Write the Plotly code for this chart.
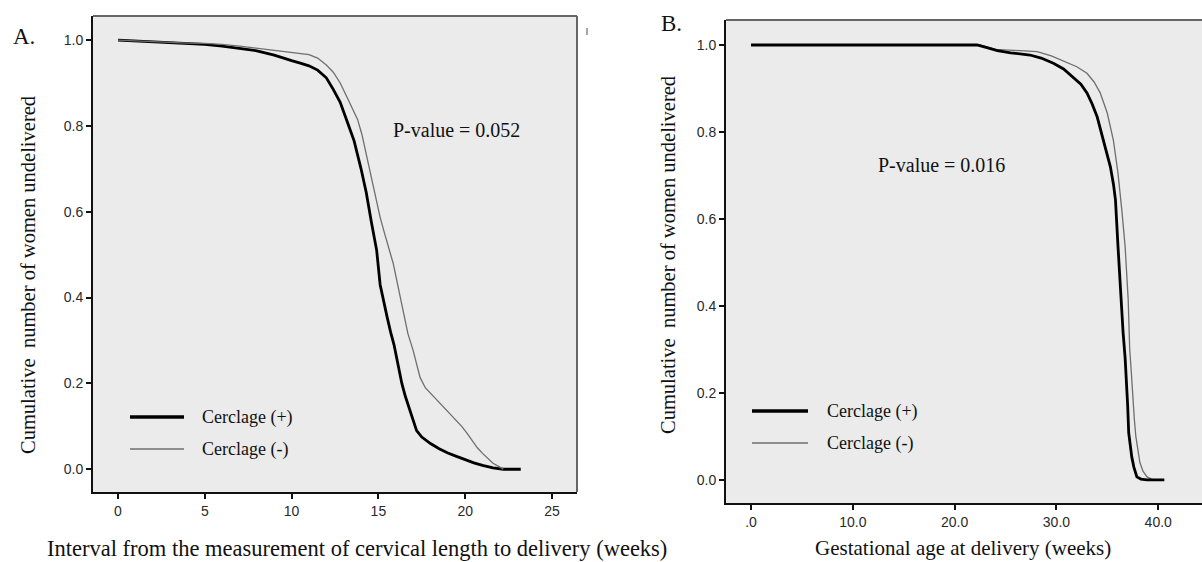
import plotly.graph_objects as go

W, H = 1202, 562

# ---------------- data ----------------
# Panel A: interval from cervical length measurement to delivery (weeks)
a_plus_x = [0, 1, 2, 3, 4, 5, 6, 7, 8, 9, 9.5, 10, 10.5, 11, 11.5, 12, 12.4, 12.8, 13.2, 13.6,
            14.0, 14.3, 14.6, 14.9, 15.1, 15.3, 15.5, 15.7, 15.9, 16.15, 16.35, 16.55, 16.75,
            16.95, 17.2, 17.5, 18.0, 18.5, 19.0, 19.5, 20.0, 20.5, 21.0, 21.6, 22.2, 23.2]
a_plus_y = [1.0, 0.998, 0.995, 0.993, 0.991, 0.99, 0.986, 0.981, 0.975, 0.965, 0.958, 0.952,
            0.946, 0.94, 0.93, 0.912, 0.885, 0.855, 0.81, 0.765, 0.70, 0.645, 0.575, 0.51,
            0.43, 0.39, 0.355, 0.32, 0.29, 0.24, 0.20, 0.17, 0.145, 0.12, 0.09, 0.075, 0.06,
            0.048, 0.038, 0.03, 0.022, 0.015, 0.009, 0.003, 0.0, 0.0]
a_minus_x = [0, 1, 2, 3, 4, 5, 6, 7, 8, 9, 10, 10.5, 11, 11.5, 12, 12.4, 12.8, 13.2, 13.5, 13.8,
             14.05, 14.25, 14.45, 14.65, 14.9, 15.1, 15.35, 15.6, 15.85, 16.1, 16.4, 16.7, 17.0,
             17.4, 17.7, 18.0, 18.4, 18.75, 19.1, 19.5, 19.8, 20.1, 20.4, 20.7, 21.0, 21.3,
             21.6, 22.0, 22.2]
a_minus_y = [1.0, 0.998, 0.996, 0.994, 0.993, 0.992, 0.99, 0.986, 0.981, 0.975, 0.97, 0.968,
             0.966, 0.958, 0.942, 0.925, 0.90, 0.866, 0.84, 0.815, 0.78, 0.742, 0.705, 0.665,
             0.62, 0.587, 0.55, 0.516, 0.48, 0.432, 0.37, 0.316, 0.277, 0.214, 0.19, 0.177,
             0.16, 0.145, 0.13, 0.114, 0.10, 0.084, 0.068, 0.05, 0.037, 0.025, 0.014, 0.005, 0.0]

# Panel B: gestational age at delivery (weeks)
b_plus_x = [0, 22.2, 23.0, 24.2, 25.5, 27.4, 28.5, 29.7, 30.7, 31.6, 32.4, 33.0, 33.5, 34.0,
            34.6, 35.0, 35.3, 35.6, 35.8, 36.05, 36.25, 36.4, 36.55, 36.75, 36.9, 37.0, 37.1,
            37.25, 37.4, 37.6, 37.9, 38.3, 38.9, 40.6]
b_plus_y = [1.0, 1.0, 0.995, 0.987, 0.982, 0.977, 0.97, 0.958, 0.945, 0.927, 0.91, 0.89, 0.865,
            0.835, 0.78, 0.75, 0.72, 0.68, 0.644, 0.536, 0.453, 0.39, 0.338, 0.28, 0.223, 0.17,
            0.108, 0.08, 0.053, 0.03, 0.007, 0.002, 0.0, 0.0]
b_minus_x = [0, 22.5, 24.0, 26.0, 28.1, 29.5, 31.0, 32.0, 33.0, 33.7, 34.3, 35.0, 35.6, 36.05,
             36.45, 36.75, 37.05, 37.2, 37.35, 37.5, 37.65, 37.8, 38.0, 38.2, 38.5, 38.9, 39.5,
             40.0]
b_minus_y = [1.0, 1.0, 0.99, 0.988, 0.985, 0.975, 0.96, 0.95, 0.935, 0.915, 0.89, 0.843, 0.78,
             0.705, 0.614, 0.536, 0.414, 0.30, 0.25, 0.184, 0.14, 0.10, 0.065, 0.04, 0.02,
             0.007, 0.0, 0.0]

a_xticks = [0, 5, 10, 15, 20, 25]
a_xticktext = ["0", "5", "10", "15", "20", "25"]
b_xticks = [0, 10, 20, 30, 40]
b_xticktext = [".0", "10.0", "20.0", "30.0", "40.0"]
y_ticks = [0.0, 0.2, 0.4, 0.6, 0.8, 1.0]
y_ticktext = ["0.0", "0.2", "0.4", "0.6", "0.8", "1.0"]

series_names = ["Cerclage (+)", "Cerclage (-)"]
p_texts = ["P-value = 0.052", "P-value = 0.016"]
panel_labels = ["A.", "B."]
x_titles = ["Interval from the measurement of cervical length to delivery (weeks)",
            "Gestational age at delivery (weeks)"]
y_title = "Cumulative  number of women undelivered"

# ---------------- styling ----------------
SERIF = "Liberation Serif, Times New Roman, serif"
SANS = "Liberation Sans, Arial, sans-serif"
BG = "#ebebeb"
THICK = dict(color="#000000", width=2.8)
THIN = dict(color="#6e6e6e", width=1.3)


def px(x):
    return x / W


def py(y):
    return 1 - y / H


fig = go.Figure()

fig.add_trace(go.Scatter(x=a_plus_x, y=a_plus_y, mode="lines", line=dict(shape="linear", **THICK),
                         name=series_names[0], xaxis="x", yaxis="y", showlegend=False))
fig.add_trace(go.Scatter(x=a_minus_x, y=a_minus_y, mode="lines", line=dict(shape="linear", **THIN),
                         name=series_names[1], xaxis="x", yaxis="y", showlegend=False))
fig.add_trace(go.Scatter(x=b_minus_x, y=b_minus_y, mode="lines", line=dict(shape="linear", **THIN),
                         name=series_names[1], xaxis="x2", yaxis="y2", showlegend=False))
fig.add_trace(go.Scatter(x=b_plus_x, y=b_plus_y, mode="lines", line=dict(shape="linear", **THICK),
                         name=series_names[0], xaxis="x2", yaxis="y2", showlegend=False))

tickfont = dict(family=SANS, size=14, color="#2a2a2a")
axis_common = dict(showgrid=False, zeroline=False, showline=True, linecolor="#111111",
                   linewidth=2, ticks="outside", ticklen=5, tickwidth=1.5, tickcolor="#111111",
                   tickfont=tickfont, mirror=False)

fig.update_layout(
    xaxis=dict(domain=[px(93), px(577)], range=[-1.44, 26.44], anchor="y",
               tickvals=a_xticks, ticktext=a_xticktext, **axis_common),
    yaxis=dict(domain=[py(492), py(16)], range=[-0.053, 1.056], anchor="x",
               tickvals=y_ticks, ticktext=y_ticktext, **axis_common),
    xaxis2=dict(domain=[px(726), 1.0], range=[-2.46, 44.3], anchor="y2",
                tickvals=b_xticks, ticktext=b_xticktext, **axis_common),
    yaxis2=dict(domain=[py(503), py(20)], range=[-0.053, 1.0575], anchor="x2",
                tickvals=y_ticks, ticktext=y_ticktext, **axis_common),
)

shapes = []
for xr, yr in (("x domain", "y domain"), ("x2 domain", "y2 domain")):
    shapes.append(dict(type="rect", xref=xr, yref=yr, x0=0, x1=1, y0=0, y1=1,
                       fillcolor=BG, line=dict(width=0), layer="below"))
shapes.append(dict(type="line", xref="x domain", yref="y domain", x0=0, x1=1, y0=1, y1=1,
                   line=dict(color="#666666", width=2)))
shapes.append(dict(type="line", xref="x domain", yref="y domain", x0=1, x1=1, y0=0, y1=1,
                   line=dict(color="#666666", width=2)))
shapes.append(dict(type="line", xref="x2 domain", yref="y2 domain", x0=0, x1=1, y0=1, y1=1,
                   line=dict(color="#666666", width=2)))
shapes.append(dict(type="line", xref="paper", yref="paper", x0=px(587), x1=px(587),
                   y0=py(28), y1=py(35), line=dict(color="#888888", width=1.5)))

legend_pos = [  # (x_start, x_end, y_thick, y_thin, text_x)
    (130, 184, 417, 449, 200),
    (752, 808, 411, 443, 825),
]
annotations = []
for (x0, x1, yt, yn, tx) in legend_pos:
    shapes.append(dict(type="line", xref="paper", yref="paper", x0=px(x0), x1=px(x1),
                       y0=py(yt), y1=py(yt), line=dict(color="#000000", width=3.5)))
    shapes.append(dict(type="line", xref="paper", yref="paper", x0=px(x0), x1=px(x1),
                       y0=py(yn), y1=py(yn), line=dict(color="#333333", width=1.2)))
    for name, yy in zip(series_names, (yt, yn)):
        annotations.append(dict(xref="paper", yref="paper", x=px(tx), y=py(yy), text=name,
                                showarrow=False, xanchor="left", yanchor="middle",
                                font=dict(family=SERIF, size=18, color="#111111")))

fig.update_layout(shapes=shapes)

annotations.append(dict(xref="paper", yref="paper", x=px(456), y=py(130), text=p_texts[0],
                        showarrow=False, xanchor="center", yanchor="middle",
                        font=dict(family=SERIF, size=20, color="#111111")))
annotations.append(dict(xref="paper", yref="paper", x=px(941), y=py(165), text=p_texts[1],
                        showarrow=False, xanchor="center", yanchor="middle",
                        font=dict(family=SERIF, size=20, color="#111111")))
annotations.append(dict(xref="paper", yref="paper", x=px(24), y=py(36), text=panel_labels[0],
                        showarrow=False, xanchor="center", yanchor="middle",
                        font=dict(family=SERIF, size=23, color="#111111")))
annotations.append(dict(xref="paper", yref="paper", x=px(672), y=py(24), text=panel_labels[1],
                        showarrow=False, xanchor="center", yanchor="middle",
                        font=dict(family=SERIF, size=23, color="#111111")))
annotations.append(dict(xref="paper", yref="paper", x=px(357), y=py(548), text=x_titles[0],
                        showarrow=False, xanchor="center", yanchor="middle",
                        font=dict(family=SERIF, size=22.5, color="#111111")))
annotations.append(dict(xref="paper", yref="paper", x=px(963), y=py(548), text=x_titles[1],
                        showarrow=False, xanchor="center", yanchor="middle",
                        font=dict(family=SERIF, size=21, color="#111111")))
annotations.append(dict(xref="paper", yref="paper", x=px(28), y=py(275), text=y_title,
                        showarrow=False, xanchor="center", yanchor="middle", textangle=-90,
                        font=dict(family=SERIF, size=20.5, color="#111111")))
annotations.append(dict(xref="paper", yref="paper", x=px(668), y=py(255), text=y_title,
                        showarrow=False, xanchor="center", yanchor="middle", textangle=-90,
                        font=dict(family=SERIF, size=20.5, color="#111111")))

fig.update_layout(
    annotations=annotations,
    width=W, height=H,
    margin=dict(l=0, r=0, t=0, b=0, autoexpand=False),
    paper_bgcolor="#ffffff", plot_bgcolor="rgba(0,0,0,0)",
    showlegend=False,
)

fig.write_html("out.html", config={"displayModeBar": False},
               post_script="document.body.style.margin='0';")
